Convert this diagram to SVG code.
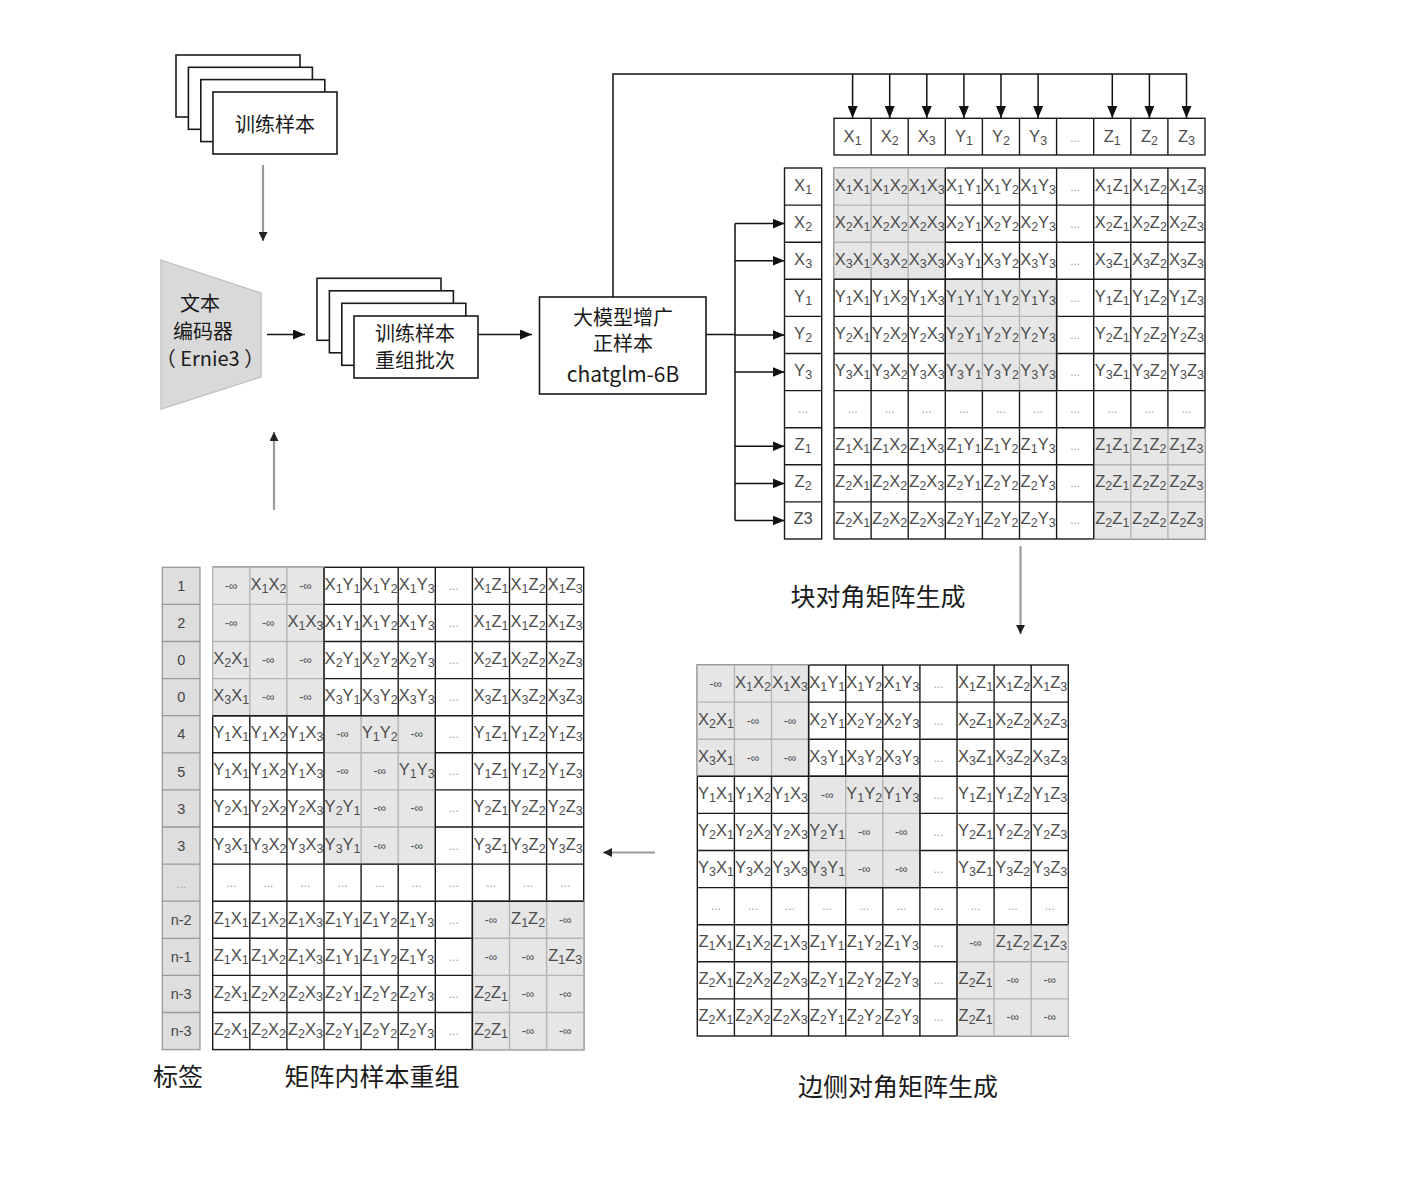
<svg xmlns="http://www.w3.org/2000/svg" xmlns:xlink="http://www.w3.org/1999/xlink" width="1427" height="1179" viewBox="0 0 1427 1179">
<style>
.w{fill:#fff;stroke:#1a1a1a;stroke-width:1.4}
.bl{fill:none;stroke:#1a1a1a;stroke-width:1.4}
.gb{fill:#e6e6e6;stroke:#b4b4b4;stroke-width:1.4}
.gl{fill:none;stroke:#b4b4b4;stroke-width:1.4}
.t{font-family:"Liberation Sans",Arial,sans-serif;font-size:16.5px;fill:#4d4d4d;text-anchor:middle}
.t tspan{font-size:12.5px;baseline-shift:-2.8px}
.t .i{font-size:12px}
.t .d{font-size:12px;fill:#a0a0a0}
.box{fill:#fff;stroke:#1a1a1a;stroke-width:1.6}
.cjk{font-family:"Noto Sans CJK SC","Noto Sans",sans-serif;fill:#1a1a1a;text-anchor:middle;font-size:20px}
.cap{font-size:25px}
.ar{fill:none;stroke:#111;stroke-width:1.5}
.ga{fill:none;stroke:#9a9a9a;stroke-width:2.2}
.lab{fill:#dedede;stroke:#9a9a9a;stroke-width:1.3}
.lt{font-family:"Liberation Sans",Arial,sans-serif;font-size:14.5px;fill:#444;text-anchor:middle}
</style>
<defs>
<marker id="ab" viewBox="0 0 12 10" refX="12" refY="5" markerWidth="12" markerHeight="10" markerUnits="userSpaceOnUse" orient="auto"><path d="M0,0L12,5L0,10z" fill="#111"/></marker>
<marker id="ag" viewBox="0 0 9 9" refX="9" refY="4.5" markerWidth="9" markerHeight="9" markerUnits="userSpaceOnUse" orient="auto"><path d="M0,0L9,4.5L0,9z" fill="#222"/></marker>
<g id="grid10">
<rect width="371" height="371" class="w"/>
<path class="bl" d="M37.1,0V371M74.2,0V371M111.3,0V371M148.4,0V371M185.5,0V371M222.6,0V371M259.7,0V371M296.8,0V371M333.9,0V371M0,37.1H371M0,74.2H371M0,111.3H371M0,148.4H371M0,185.5H371M0,222.6H371M0,259.7H371M0,296.8H371M0,333.9H371"/>
<rect class="gb" width="111.3" height="111.3"/>
<rect class="gb" x="111.3" y="111.3" width="111.3" height="111.3"/>
<rect class="gb" x="259.7" y="259.7" width="111.3" height="111.3"/>
<path class="gl" d="M37.1,0V111.3M74.2,0V111.3M0,37.1H111.3M0,74.2H111.3M148.4,111.3V222.6M185.5,111.3V222.6M111.3,148.4H222.6M111.3,185.5H222.6M296.8,259.7V371M333.9,259.7V371M259.7,296.8H371M259.7,333.9H371"/>
<path class="bl" d="M111.3,0V111.3H0M111.3,111.3H222.6V222.6H111.3ZM259.7,371V259.7H371"/>
</g>
</defs>

<g id="samples">
<rect class="box" x="176" y="55" width="124" height="62"/>
<rect class="box" x="188.4" y="67.3" width="124" height="62"/>
<rect class="box" x="200.8" y="79.6" width="124" height="62"/>
<rect class="box" x="213" y="92" width="124" height="62"/>
<text class="cjk" x="275" y="131.5">训练样本</text>
</g>

<g id="encoder">
<polygon points="161,260 261,293 261,377 161,409" fill="#d9d9d9" stroke="#bdbdbd" stroke-width="1.3"/>
<text class="cjk" x="200" y="311">文本</text>
<text class="cjk" x="203" y="339">编码器</text>
<text class="cjk" x="210" y="366">（ Ernie3 ）</text>
</g>

<g id="batches">
<rect class="box" x="317" y="278.3" width="124" height="62"/>
<rect class="box" x="329.4" y="290.8" width="124" height="62"/>
<rect class="box" x="341.8" y="303.3" width="124" height="62"/>
<rect class="box" x="354" y="316" width="124" height="62"/>
<text class="cjk" x="415" y="340.5">训练样本</text>
<text class="cjk" x="415" y="367.5">重组批次</text>
</g>

<g id="llm">
<rect class="box" x="539.5" y="297" width="166.5" height="97"/>
<text class="cjk" x="623" y="324.5">大模型增广</text>
<text class="cjk" x="623" y="351">正样本</text>
<text class="cjk" x="623" y="382" style="font-size:21px">chatglm-6B</text>
</g>

<g id="connectors">
<path class="ga" d="M263,165V241" marker-end="url(#ag)"/>
<path class="ar" d="M267,334.5H305" marker-end="url(#ab)"/>
<path class="ar" d="M478,334.5H532" marker-end="url(#ab)"/>
<path class="ar" d="M613,297V74H1186.5V118" marker-end="url(#ab)"/>
<path class="ar" d="M852.6,74V118" marker-end="url(#ab)"/>
<path class="ar" d="M889.7,74V118" marker-end="url(#ab)"/>
<path class="ar" d="M926.8,74V118" marker-end="url(#ab)"/>
<path class="ar" d="M963.9,74V118" marker-end="url(#ab)"/>
<path class="ar" d="M1001,74V118" marker-end="url(#ab)"/>
<path class="ar" d="M1038.1,74V118" marker-end="url(#ab)"/>
<path class="ar" d="M1112.3,74V118" marker-end="url(#ab)"/>
<path class="ar" d="M1149.4,74V118" marker-end="url(#ab)"/>
<path class="ar" d="M706,334.5H735M735,223.6V520.5"/>
<path class="ar" d="M735,223.6H784.5" marker-end="url(#ab)"/>
<path class="ar" d="M735,260.8H784.5" marker-end="url(#ab)"/>
<path class="ar" d="M735,335H784.5" marker-end="url(#ab)"/>
<path class="ar" d="M735,372H784.5" marker-end="url(#ab)"/>
<path class="ar" d="M735,446.2H784.5" marker-end="url(#ab)"/>
<path class="ar" d="M735,483.4H784.5" marker-end="url(#ab)"/>
<path class="ar" d="M735,520.5H784.5" marker-end="url(#ab)"/>
<path class="ga" d="M1020.5,546V634" marker-end="url(#ag)"/>
<path class="ga" d="M655,852.5H603" marker-end="url(#ag)"/>
<path class="ga" d="M274,510V432" marker-end="url(#ag)"/>
</g>

<g id="header" transform="translate(834,118.3)">
<rect width="371" height="36.7" class="w"/>
<path class="bl" d="M37.1,0V36.7M74.2,0V36.7M111.3,0V36.7M148.4,0V36.7M185.5,0V36.7M222.6,0V36.7M259.7,0V36.7M296.8,0V36.7M333.9,0V36.7"/>
<g class="t" transform="translate(0,23.2)">
<text x="18.6">X<tspan>1</tspan></text>
<text x="55.7">X<tspan>2</tspan></text>
<text x="92.8">X<tspan>3</tspan></text>
<text x="129.9">Y<tspan>1</tspan></text>
<text x="167">Y<tspan>2</tspan></text>
<text x="204.1">Y<tspan>3</tspan></text>
<text x="241.2" class="d">...</text>
<text x="278.3">Z<tspan>1</tspan></text>
<text x="315.4">Z<tspan>2</tspan></text>
<text x="352.5">Z<tspan>3</tspan></text>
</g>
</g>

<g id="rowlabels" transform="translate(784.5,168)">
<rect width="37.2" height="371" class="w"/>
<path class="bl" d="M0,37.1H37.2M0,74.2H37.2M0,111.3H37.2M0,148.4H37.2M0,185.5H37.2M0,222.6H37.2M0,259.7H37.2M0,296.8H37.2M0,333.9H37.2"/>
<g class="t">
<text x="18.6" y="22.5">X<tspan>1</tspan></text>
<text x="18.6" y="59.6">X<tspan>2</tspan></text>
<text x="18.6" y="96.7">X<tspan>3</tspan></text>
<text x="18.6" y="133.8">Y<tspan>1</tspan></text>
<text x="18.6" y="170.9">Y<tspan>2</tspan></text>
<text x="18.6" y="208">Y<tspan>3</tspan></text>
<text x="18.6" y="245.1" class="d">...</text>
<text x="18.6" y="282.2">Z<tspan>1</tspan></text>
<text x="18.6" y="319.3">Z<tspan>2</tspan></text>
<text x="18.6" y="356.4">Z3</text>
</g>
</g>

<g id="blockMatrix" transform="translate(834,168)">
<use href="#grid10"/>
<g class="t">
<g transform="translate(0,22.5)">
<text x="18.6">X<tspan>1</tspan>X<tspan>1</tspan></text><text x="55.7">X<tspan>1</tspan>X<tspan>2</tspan></text><text x="92.8">X<tspan>1</tspan>X<tspan>3</tspan></text><text x="129.9">X<tspan>1</tspan>Y<tspan>1</tspan></text><text x="167">X<tspan>1</tspan>Y<tspan>2</tspan></text><text x="204.1">X<tspan>1</tspan>Y<tspan>3</tspan></text><text x="241.2" class="d">...</text><text x="278.3">X<tspan>1</tspan>Z<tspan>1</tspan></text><text x="315.4">X<tspan>1</tspan>Z<tspan>2</tspan></text><text x="352.5">X<tspan>1</tspan>Z<tspan>3</tspan></text>
</g>
<g transform="translate(0,59.6)">
<text x="18.6">X<tspan>2</tspan>X<tspan>1</tspan></text><text x="55.7">X<tspan>2</tspan>X<tspan>2</tspan></text><text x="92.8">X<tspan>2</tspan>X<tspan>3</tspan></text><text x="129.9">X<tspan>2</tspan>Y<tspan>1</tspan></text><text x="167">X<tspan>2</tspan>Y<tspan>2</tspan></text><text x="204.1">X<tspan>2</tspan>Y<tspan>3</tspan></text><text x="241.2" class="d">...</text><text x="278.3">X<tspan>2</tspan>Z<tspan>1</tspan></text><text x="315.4">X<tspan>2</tspan>Z<tspan>2</tspan></text><text x="352.5">X<tspan>2</tspan>Z<tspan>3</tspan></text>
</g>
<g transform="translate(0,96.7)">
<text x="18.6">X<tspan>3</tspan>X<tspan>1</tspan></text><text x="55.7">X<tspan>3</tspan>X<tspan>2</tspan></text><text x="92.8">X<tspan>3</tspan>X<tspan>3</tspan></text><text x="129.9">X<tspan>3</tspan>Y<tspan>1</tspan></text><text x="167">X<tspan>3</tspan>Y<tspan>2</tspan></text><text x="204.1">X<tspan>3</tspan>Y<tspan>3</tspan></text><text x="241.2" class="d">...</text><text x="278.3">X<tspan>3</tspan>Z<tspan>1</tspan></text><text x="315.4">X<tspan>3</tspan>Z<tspan>2</tspan></text><text x="352.5">X<tspan>3</tspan>Z<tspan>3</tspan></text>
</g>
<g transform="translate(0,133.8)">
<text x="18.6">Y<tspan>1</tspan>X<tspan>1</tspan></text><text x="55.7">Y<tspan>1</tspan>X<tspan>2</tspan></text><text x="92.8">Y<tspan>1</tspan>X<tspan>3</tspan></text><text x="129.9">Y<tspan>1</tspan>Y<tspan>1</tspan></text><text x="167">Y<tspan>1</tspan>Y<tspan>2</tspan></text><text x="204.1">Y<tspan>1</tspan>Y<tspan>3</tspan></text><text x="241.2" class="d">...</text><text x="278.3">Y<tspan>1</tspan>Z<tspan>1</tspan></text><text x="315.4">Y<tspan>1</tspan>Z<tspan>2</tspan></text><text x="352.5">Y<tspan>1</tspan>Z<tspan>3</tspan></text>
</g>
<g transform="translate(0,170.9)">
<text x="18.6">Y<tspan>2</tspan>X<tspan>1</tspan></text><text x="55.7">Y<tspan>2</tspan>X<tspan>2</tspan></text><text x="92.8">Y<tspan>2</tspan>X<tspan>3</tspan></text><text x="129.9">Y<tspan>2</tspan>Y<tspan>1</tspan></text><text x="167">Y<tspan>2</tspan>Y<tspan>2</tspan></text><text x="204.1">Y<tspan>2</tspan>Y<tspan>3</tspan></text><text x="241.2" class="d">...</text><text x="278.3">Y<tspan>2</tspan>Z<tspan>1</tspan></text><text x="315.4">Y<tspan>2</tspan>Z<tspan>2</tspan></text><text x="352.5">Y<tspan>2</tspan>Z<tspan>3</tspan></text>
</g>
<g transform="translate(0,208)">
<text x="18.6">Y<tspan>3</tspan>X<tspan>1</tspan></text><text x="55.7">Y<tspan>3</tspan>X<tspan>2</tspan></text><text x="92.8">Y<tspan>3</tspan>X<tspan>3</tspan></text><text x="129.9">Y<tspan>3</tspan>Y<tspan>1</tspan></text><text x="167">Y<tspan>3</tspan>Y<tspan>2</tspan></text><text x="204.1">Y<tspan>3</tspan>Y<tspan>3</tspan></text><text x="241.2" class="d">...</text><text x="278.3">Y<tspan>3</tspan>Z<tspan>1</tspan></text><text x="315.4">Y<tspan>3</tspan>Z<tspan>2</tspan></text><text x="352.5">Y<tspan>3</tspan>Z<tspan>3</tspan></text>
</g>
<g transform="translate(0,245.1)">
<text x="18.6" class="d">...</text><text x="55.7" class="d">...</text><text x="92.8" class="d">...</text><text x="129.9" class="d">...</text><text x="167" class="d">...</text><text x="204.1" class="d">...</text><text x="241.2" class="d">...</text><text x="278.3" class="d">...</text><text x="315.4" class="d">...</text><text x="352.5" class="d">...</text>
</g>
<g transform="translate(0,282.2)">
<text x="18.6">Z<tspan>1</tspan>X<tspan>1</tspan></text><text x="55.7">Z<tspan>1</tspan>X<tspan>2</tspan></text><text x="92.8">Z<tspan>1</tspan>X<tspan>3</tspan></text><text x="129.9">Z<tspan>1</tspan>Y<tspan>1</tspan></text><text x="167">Z<tspan>1</tspan>Y<tspan>2</tspan></text><text x="204.1">Z<tspan>1</tspan>Y<tspan>3</tspan></text><text x="241.2" class="d">...</text><text x="278.3">Z<tspan>1</tspan>Z<tspan>1</tspan></text><text x="315.4">Z<tspan>1</tspan>Z<tspan>2</tspan></text><text x="352.5">Z<tspan>1</tspan>Z<tspan>3</tspan></text>
</g>
<g transform="translate(0,319.3)">
<text x="18.6">Z<tspan>2</tspan>X<tspan>1</tspan></text><text x="55.7">Z<tspan>2</tspan>X<tspan>2</tspan></text><text x="92.8">Z<tspan>2</tspan>X<tspan>3</tspan></text><text x="129.9">Z<tspan>2</tspan>Y<tspan>1</tspan></text><text x="167">Z<tspan>2</tspan>Y<tspan>2</tspan></text><text x="204.1">Z<tspan>2</tspan>Y<tspan>3</tspan></text><text x="241.2" class="d">...</text><text x="278.3">Z<tspan>2</tspan>Z<tspan>1</tspan></text><text x="315.4">Z<tspan>2</tspan>Z<tspan>2</tspan></text><text x="352.5">Z<tspan>2</tspan>Z<tspan>3</tspan></text>
</g>
<g transform="translate(0,356.4)">
<text x="18.6">Z<tspan>2</tspan>X<tspan>1</tspan></text><text x="55.7">Z<tspan>2</tspan>X<tspan>2</tspan></text><text x="92.8">Z<tspan>2</tspan>X<tspan>3</tspan></text><text x="129.9">Z<tspan>2</tspan>Y<tspan>1</tspan></text><text x="167">Z<tspan>2</tspan>Y<tspan>2</tspan></text><text x="204.1">Z<tspan>2</tspan>Y<tspan>3</tspan></text><text x="241.2" class="d">...</text><text x="278.3">Z<tspan>2</tspan>Z<tspan>1</tspan></text><text x="315.4">Z<tspan>2</tspan>Z<tspan>2</tspan></text><text x="352.5">Z<tspan>2</tspan>Z<tspan>3</tspan></text>
</g>
</g>
</g>
<text id="cap1" class="cjk cap" x="878" y="606">块对角矩阵生成</text>

<g id="sideMatrix" transform="translate(697.3,665)">
<use href="#grid10"/>
<g class="t">
<g transform="translate(0,22.5)">
<text x="18.6" class="i">-∞</text><text x="55.7">X<tspan>1</tspan>X<tspan>2</tspan></text><text x="92.8">X<tspan>1</tspan>X<tspan>3</tspan></text><text x="129.9">X<tspan>1</tspan>Y<tspan>1</tspan></text><text x="167">X<tspan>1</tspan>Y<tspan>2</tspan></text><text x="204.1">X<tspan>1</tspan>Y<tspan>3</tspan></text><text x="241.2" class="d">...</text><text x="278.3">X<tspan>1</tspan>Z<tspan>1</tspan></text><text x="315.4">X<tspan>1</tspan>Z<tspan>2</tspan></text><text x="352.5">X<tspan>1</tspan>Z<tspan>3</tspan></text>
</g>
<g transform="translate(0,59.6)">
<text x="18.6">X<tspan>2</tspan>X<tspan>1</tspan></text><text x="55.7" class="i">-∞</text><text x="92.8" class="i">-∞</text><text x="129.9">X<tspan>2</tspan>Y<tspan>1</tspan></text><text x="167">X<tspan>2</tspan>Y<tspan>2</tspan></text><text x="204.1">X<tspan>2</tspan>Y<tspan>3</tspan></text><text x="241.2" class="d">...</text><text x="278.3">X<tspan>2</tspan>Z<tspan>1</tspan></text><text x="315.4">X<tspan>2</tspan>Z<tspan>2</tspan></text><text x="352.5">X<tspan>2</tspan>Z<tspan>3</tspan></text>
</g>
<g transform="translate(0,96.7)">
<text x="18.6">X<tspan>3</tspan>X<tspan>1</tspan></text><text x="55.7" class="i">-∞</text><text x="92.8" class="i">-∞</text><text x="129.9">X<tspan>3</tspan>Y<tspan>1</tspan></text><text x="167">X<tspan>3</tspan>Y<tspan>2</tspan></text><text x="204.1">X<tspan>3</tspan>Y<tspan>3</tspan></text><text x="241.2" class="d">...</text><text x="278.3">X<tspan>3</tspan>Z<tspan>1</tspan></text><text x="315.4">X<tspan>3</tspan>Z<tspan>2</tspan></text><text x="352.5">X<tspan>3</tspan>Z<tspan>3</tspan></text>
</g>
<g transform="translate(0,133.8)">
<text x="18.6">Y<tspan>1</tspan>X<tspan>1</tspan></text><text x="55.7">Y<tspan>1</tspan>X<tspan>2</tspan></text><text x="92.8">Y<tspan>1</tspan>X<tspan>3</tspan></text><text x="129.9" class="i">-∞</text><text x="167">Y<tspan>1</tspan>Y<tspan>2</tspan></text><text x="204.1">Y<tspan>1</tspan>Y<tspan>3</tspan></text><text x="241.2" class="d">...</text><text x="278.3">Y<tspan>1</tspan>Z<tspan>1</tspan></text><text x="315.4">Y<tspan>1</tspan>Z<tspan>2</tspan></text><text x="352.5">Y<tspan>1</tspan>Z<tspan>3</tspan></text>
</g>
<g transform="translate(0,170.9)">
<text x="18.6">Y<tspan>2</tspan>X<tspan>1</tspan></text><text x="55.7">Y<tspan>2</tspan>X<tspan>2</tspan></text><text x="92.8">Y<tspan>2</tspan>X<tspan>3</tspan></text><text x="129.9">Y<tspan>2</tspan>Y<tspan>1</tspan></text><text x="167" class="i">-∞</text><text x="204.1" class="i">-∞</text><text x="241.2" class="d">...</text><text x="278.3">Y<tspan>2</tspan>Z<tspan>1</tspan></text><text x="315.4">Y<tspan>2</tspan>Z<tspan>2</tspan></text><text x="352.5">Y<tspan>2</tspan>Z<tspan>3</tspan></text>
</g>
<g transform="translate(0,208)">
<text x="18.6">Y<tspan>3</tspan>X<tspan>1</tspan></text><text x="55.7">Y<tspan>3</tspan>X<tspan>2</tspan></text><text x="92.8">Y<tspan>3</tspan>X<tspan>3</tspan></text><text x="129.9">Y<tspan>3</tspan>Y<tspan>1</tspan></text><text x="167" class="i">-∞</text><text x="204.1" class="i">-∞</text><text x="241.2" class="d">...</text><text x="278.3">Y<tspan>3</tspan>Z<tspan>1</tspan></text><text x="315.4">Y<tspan>3</tspan>Z<tspan>2</tspan></text><text x="352.5">Y<tspan>3</tspan>Z<tspan>3</tspan></text>
</g>
<g transform="translate(0,245.1)">
<text x="18.6" class="d">...</text><text x="55.7" class="d">...</text><text x="92.8" class="d">...</text><text x="129.9" class="d">...</text><text x="167" class="d">...</text><text x="204.1" class="d">...</text><text x="241.2" class="d">...</text><text x="278.3" class="d">...</text><text x="315.4" class="d">...</text><text x="352.5" class="d">...</text>
</g>
<g transform="translate(0,282.2)">
<text x="18.6">Z<tspan>1</tspan>X<tspan>1</tspan></text><text x="55.7">Z<tspan>1</tspan>X<tspan>2</tspan></text><text x="92.8">Z<tspan>1</tspan>X<tspan>3</tspan></text><text x="129.9">Z<tspan>1</tspan>Y<tspan>1</tspan></text><text x="167">Z<tspan>1</tspan>Y<tspan>2</tspan></text><text x="204.1">Z<tspan>1</tspan>Y<tspan>3</tspan></text><text x="241.2" class="d">...</text><text x="278.3" class="i">-∞</text><text x="315.4">Z<tspan>1</tspan>Z<tspan>2</tspan></text><text x="352.5">Z<tspan>1</tspan>Z<tspan>3</tspan></text>
</g>
<g transform="translate(0,319.3)">
<text x="18.6">Z<tspan>2</tspan>X<tspan>1</tspan></text><text x="55.7">Z<tspan>2</tspan>X<tspan>2</tspan></text><text x="92.8">Z<tspan>2</tspan>X<tspan>3</tspan></text><text x="129.9">Z<tspan>2</tspan>Y<tspan>1</tspan></text><text x="167">Z<tspan>2</tspan>Y<tspan>2</tspan></text><text x="204.1">Z<tspan>2</tspan>Y<tspan>3</tspan></text><text x="241.2" class="d">...</text><text x="278.3">Z<tspan>2</tspan>Z<tspan>1</tspan></text><text x="315.4" class="i">-∞</text><text x="352.5" class="i">-∞</text>
</g>
<g transform="translate(0,356.4)">
<text x="18.6">Z<tspan>2</tspan>X<tspan>1</tspan></text><text x="55.7">Z<tspan>2</tspan>X<tspan>2</tspan></text><text x="92.8">Z<tspan>2</tspan>X<tspan>3</tspan></text><text x="129.9">Z<tspan>2</tspan>Y<tspan>1</tspan></text><text x="167">Z<tspan>2</tspan>Y<tspan>2</tspan></text><text x="204.1">Z<tspan>2</tspan>Y<tspan>3</tspan></text><text x="241.2" class="d">...</text><text x="278.3">Z<tspan>2</tspan>Z<tspan>1</tspan></text><text x="315.4" class="i">-∞</text><text x="352.5" class="i">-∞</text>
</g>
</g>
</g>
<text id="cap2" class="cjk cap" x="898" y="1096">边侧对角矩阵生成</text>

<g id="labels" transform="translate(162.3,567.3)">
<rect class="lab" width="37.7" height="482.3"/>
<path fill="none" stroke="#9a9a9a" stroke-width="1.3" d="M0,37.1H37.7M0,74.2H37.7M0,111.3H37.7M0,148.4H37.7M0,185.5H37.7M0,222.6H37.7M0,259.7H37.7M0,296.8H37.7M0,333.9H37.7M0,371H37.7M0,408.1H37.7M0,445.2H37.7"/>
<g class="lt">
<text x="18.9" y="23.8">1</text>
<text x="18.9" y="60.9">2</text>
<text x="18.9" y="98">0</text>
<text x="18.9" y="135.1">0</text>
<text x="18.9" y="172.2">4</text>
<text x="18.9" y="209.3">5</text>
<text x="18.9" y="246.4">3</text>
<text x="18.9" y="283.5">3</text>
<text x="18.9" y="320.6" style="font-size:11px;fill:#999">...</text>
<text x="18.9" y="357.7">n-2</text>
<text x="18.9" y="394.8">n-1</text>
<text x="18.9" y="431.9">n-3</text>
<text x="18.9" y="469">n-3</text>
</g>
</g>
<text id="cap3" class="cjk cap" x="178" y="1086">标签</text>

<g id="reorgMatrix" transform="translate(212.7,567.3)">
<rect width="371" height="482.3" class="w"/>
<path class="bl" d="M37.1,0V482.3M74.2,0V482.3M111.3,0V482.3M148.4,0V482.3M185.5,0V482.3M222.6,0V482.3M259.7,0V482.3M296.8,0V482.3M333.9,0V482.3M0,37.1H371M0,74.2H371M0,111.3H371M0,148.4H371M0,185.5H371M0,222.6H371M0,259.7H371M0,296.8H371M0,333.9H371M0,371H371M0,408.1H371M0,445.2H371"/>
<rect class="gb" width="111.3" height="148.4"/>
<rect class="gb" x="111.3" y="148.4" width="111.3" height="148.4"/>
<rect class="gb" x="259.7" y="333.9" width="111.3" height="148.4"/>
<path class="gl" d="M37.1,0V148.4M74.2,0V148.4M0,37.1H111.3M0,74.2H111.3M0,111.3H111.3M148.4,148.4V296.8M185.5,148.4V296.8M111.3,185.5H222.6M111.3,222.6H222.6M111.3,259.7H222.6M296.8,333.9V482.3M333.9,333.9V482.3M259.7,371H371M259.7,408.1H371M259.7,445.2H371"/>
<path class="bl" d="M111.3,0V148.4H0M111.3,148.4H222.6V296.8H111.3ZM259.7,482.3V333.9H371"/>
<g class="t">
<g transform="translate(0,22.5)">
<text x="18.6" class="i">-∞</text><text x="55.7">X<tspan>1</tspan>X<tspan>2</tspan></text><text x="92.8" class="i">-∞</text><text x="129.9">X<tspan>1</tspan>Y<tspan>1</tspan></text><text x="167">X<tspan>1</tspan>Y<tspan>2</tspan></text><text x="204.1">X<tspan>1</tspan>Y<tspan>3</tspan></text><text x="241.2" class="d">...</text><text x="278.3">X<tspan>1</tspan>Z<tspan>1</tspan></text><text x="315.4">X<tspan>1</tspan>Z<tspan>2</tspan></text><text x="352.5">X<tspan>1</tspan>Z<tspan>3</tspan></text>
</g>
<g transform="translate(0,59.6)">
<text x="18.6" class="i">-∞</text><text x="55.7" class="i">-∞</text><text x="92.8">X<tspan>1</tspan>X<tspan>3</tspan></text><text x="129.9">X<tspan>1</tspan>Y<tspan>1</tspan></text><text x="167">X<tspan>1</tspan>Y<tspan>2</tspan></text><text x="204.1">X<tspan>1</tspan>Y<tspan>3</tspan></text><text x="241.2" class="d">...</text><text x="278.3">X<tspan>1</tspan>Z<tspan>1</tspan></text><text x="315.4">X<tspan>1</tspan>Z<tspan>2</tspan></text><text x="352.5">X<tspan>1</tspan>Z<tspan>3</tspan></text>
</g>
<g transform="translate(0,96.7)">
<text x="18.6">X<tspan>2</tspan>X<tspan>1</tspan></text><text x="55.7" class="i">-∞</text><text x="92.8" class="i">-∞</text><text x="129.9">X<tspan>2</tspan>Y<tspan>1</tspan></text><text x="167">X<tspan>2</tspan>Y<tspan>2</tspan></text><text x="204.1">X<tspan>2</tspan>Y<tspan>3</tspan></text><text x="241.2" class="d">...</text><text x="278.3">X<tspan>2</tspan>Z<tspan>1</tspan></text><text x="315.4">X<tspan>2</tspan>Z<tspan>2</tspan></text><text x="352.5">X<tspan>2</tspan>Z<tspan>3</tspan></text>
</g>
<g transform="translate(0,133.8)">
<text x="18.6">X<tspan>3</tspan>X<tspan>1</tspan></text><text x="55.7" class="i">-∞</text><text x="92.8" class="i">-∞</text><text x="129.9">X<tspan>3</tspan>Y<tspan>1</tspan></text><text x="167">X<tspan>3</tspan>Y<tspan>2</tspan></text><text x="204.1">X<tspan>3</tspan>Y<tspan>3</tspan></text><text x="241.2" class="d">...</text><text x="278.3">X<tspan>3</tspan>Z<tspan>1</tspan></text><text x="315.4">X<tspan>3</tspan>Z<tspan>2</tspan></text><text x="352.5">X<tspan>3</tspan>Z<tspan>3</tspan></text>
</g>
<g transform="translate(0,170.9)">
<text x="18.6">Y<tspan>1</tspan>X<tspan>1</tspan></text><text x="55.7">Y<tspan>1</tspan>X<tspan>2</tspan></text><text x="92.8">Y<tspan>1</tspan>X<tspan>3</tspan></text><text x="129.9" class="i">-∞</text><text x="167">Y<tspan>1</tspan>Y<tspan>2</tspan></text><text x="204.1" class="i">-∞</text><text x="241.2" class="d">...</text><text x="278.3">Y<tspan>1</tspan>Z<tspan>1</tspan></text><text x="315.4">Y<tspan>1</tspan>Z<tspan>2</tspan></text><text x="352.5">Y<tspan>1</tspan>Z<tspan>3</tspan></text>
</g>
<g transform="translate(0,208)">
<text x="18.6">Y<tspan>1</tspan>X<tspan>1</tspan></text><text x="55.7">Y<tspan>1</tspan>X<tspan>2</tspan></text><text x="92.8">Y<tspan>1</tspan>X<tspan>3</tspan></text><text x="129.9" class="i">-∞</text><text x="167" class="i">-∞</text><text x="204.1">Y<tspan>1</tspan>Y<tspan>3</tspan></text><text x="241.2" class="d">...</text><text x="278.3">Y<tspan>1</tspan>Z<tspan>1</tspan></text><text x="315.4">Y<tspan>1</tspan>Z<tspan>2</tspan></text><text x="352.5">Y<tspan>1</tspan>Z<tspan>3</tspan></text>
</g>
<g transform="translate(0,245.1)">
<text x="18.6">Y<tspan>2</tspan>X<tspan>1</tspan></text><text x="55.7">Y<tspan>2</tspan>X<tspan>2</tspan></text><text x="92.8">Y<tspan>2</tspan>X<tspan>3</tspan></text><text x="129.9">Y<tspan>2</tspan>Y<tspan>1</tspan></text><text x="167" class="i">-∞</text><text x="204.1" class="i">-∞</text><text x="241.2" class="d">...</text><text x="278.3">Y<tspan>2</tspan>Z<tspan>1</tspan></text><text x="315.4">Y<tspan>2</tspan>Z<tspan>2</tspan></text><text x="352.5">Y<tspan>2</tspan>Z<tspan>3</tspan></text>
</g>
<g transform="translate(0,282.2)">
<text x="18.6">Y<tspan>3</tspan>X<tspan>1</tspan></text><text x="55.7">Y<tspan>3</tspan>X<tspan>2</tspan></text><text x="92.8">Y<tspan>3</tspan>X<tspan>3</tspan></text><text x="129.9">Y<tspan>3</tspan>Y<tspan>1</tspan></text><text x="167" class="i">-∞</text><text x="204.1" class="i">-∞</text><text x="241.2" class="d">...</text><text x="278.3">Y<tspan>3</tspan>Z<tspan>1</tspan></text><text x="315.4">Y<tspan>3</tspan>Z<tspan>2</tspan></text><text x="352.5">Y<tspan>3</tspan>Z<tspan>3</tspan></text>
</g>
<g transform="translate(0,319.3)">
<text x="18.6" class="d">...</text><text x="55.7" class="d">...</text><text x="92.8" class="d">...</text><text x="129.9" class="d">...</text><text x="167" class="d">...</text><text x="204.1" class="d">...</text><text x="241.2" class="d">...</text><text x="278.3" class="d">...</text><text x="315.4" class="d">...</text><text x="352.5" class="d">...</text>
</g>
<g transform="translate(0,356.4)">
<text x="18.6">Z<tspan>1</tspan>X<tspan>1</tspan></text><text x="55.7">Z<tspan>1</tspan>X<tspan>2</tspan></text><text x="92.8">Z<tspan>1</tspan>X<tspan>3</tspan></text><text x="129.9">Z<tspan>1</tspan>Y<tspan>1</tspan></text><text x="167">Z<tspan>1</tspan>Y<tspan>2</tspan></text><text x="204.1">Z<tspan>1</tspan>Y<tspan>3</tspan></text><text x="241.2" class="d">...</text><text x="278.3" class="i">-∞</text><text x="315.4">Z<tspan>1</tspan>Z<tspan>2</tspan></text><text x="352.5" class="i">-∞</text>
</g>
<g transform="translate(0,393.5)">
<text x="18.6">Z<tspan>1</tspan>X<tspan>1</tspan></text><text x="55.7">Z<tspan>1</tspan>X<tspan>2</tspan></text><text x="92.8">Z<tspan>1</tspan>X<tspan>3</tspan></text><text x="129.9">Z<tspan>1</tspan>Y<tspan>1</tspan></text><text x="167">Z<tspan>1</tspan>Y<tspan>2</tspan></text><text x="204.1">Z<tspan>1</tspan>Y<tspan>3</tspan></text><text x="241.2" class="d">...</text><text x="278.3" class="i">-∞</text><text x="315.4" class="i">-∞</text><text x="352.5">Z<tspan>1</tspan>Z<tspan>3</tspan></text>
</g>
<g transform="translate(0,430.6)">
<text x="18.6">Z<tspan>2</tspan>X<tspan>1</tspan></text><text x="55.7">Z<tspan>2</tspan>X<tspan>2</tspan></text><text x="92.8">Z<tspan>2</tspan>X<tspan>3</tspan></text><text x="129.9">Z<tspan>2</tspan>Y<tspan>1</tspan></text><text x="167">Z<tspan>2</tspan>Y<tspan>2</tspan></text><text x="204.1">Z<tspan>2</tspan>Y<tspan>3</tspan></text><text x="241.2" class="d">...</text><text x="278.3">Z<tspan>2</tspan>Z<tspan>1</tspan></text><text x="315.4" class="i">-∞</text><text x="352.5" class="i">-∞</text>
</g>
<g transform="translate(0,467.7)">
<text x="18.6">Z<tspan>2</tspan>X<tspan>1</tspan></text><text x="55.7">Z<tspan>2</tspan>X<tspan>2</tspan></text><text x="92.8">Z<tspan>2</tspan>X<tspan>3</tspan></text><text x="129.9">Z<tspan>2</tspan>Y<tspan>1</tspan></text><text x="167">Z<tspan>2</tspan>Y<tspan>2</tspan></text><text x="204.1">Z<tspan>2</tspan>Y<tspan>3</tspan></text><text x="241.2" class="d">...</text><text x="278.3">Z<tspan>2</tspan>Z<tspan>1</tspan></text><text x="315.4" class="i">-∞</text><text x="352.5" class="i">-∞</text>
</g>
</g>
</g>
<text id="cap4" class="cjk cap" x="372" y="1086">矩阵内样本重组</text>
</svg>
